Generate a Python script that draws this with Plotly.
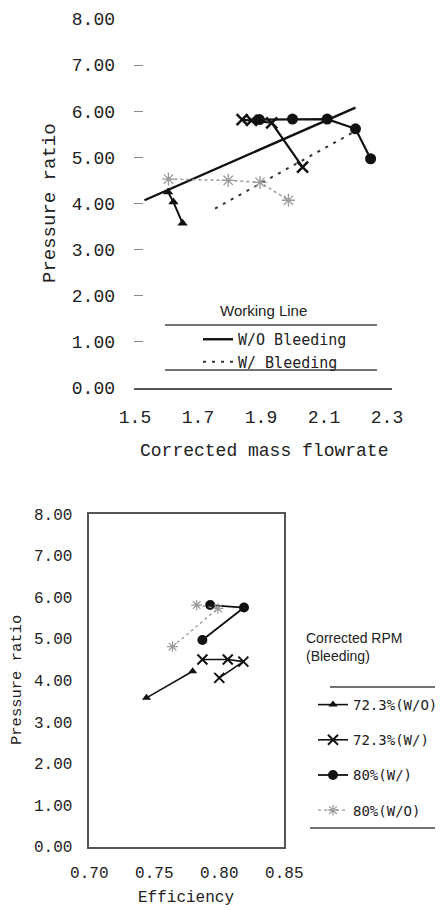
import plotly.graph_objects as go

W, H = 443, 910
OFF = 8  # page body margin offset in the photographed window

# ---------------- data: top chart (pressure ratio vs corrected mass flowrate)
wl_wo_x = [1.53, 2.20]
wl_wo_y = [4.07, 6.08]
wl_w_x = [1.754, 2.20]
wl_w_y = [3.89, 5.57]

top_723_wo_x = [1.605, 1.622, 1.651]
top_723_wo_y = [4.25, 4.03, 3.57]
top_723_w_x = [1.840, 1.870, 1.934, 2.032]
top_723_w_y = [5.82, 5.80, 5.75, 4.79]
top_80_w_x = [1.895, 2.000, 2.110, 2.200, 2.248]
top_80_w_y = [5.82, 5.83, 5.83, 5.62, 4.97]
top_80_wo_x = [1.606, 1.796, 1.897, 1.987]
top_80_wo_y = [4.53, 4.50, 4.46, 4.07]

top_xticks = [1.5, 1.7, 1.9, 2.1, 2.3]
yticks = [0, 1, 2, 3, 4, 5, 6, 7, 8]

# ---------------- data: bottom chart (pressure ratio vs efficiency)
eff_723_wo = [0.7795, 0.744]
pr_723_wo = [4.22, 3.58]
eff_723_w = [0.787, 0.8065, 0.8185, 0.800]
pr_723_w = [4.50, 4.50, 4.45, 4.06]
eff_80_w = [0.793, 0.819, 0.787]
pr_80_w = [5.81, 5.75, 4.97]
eff_80_wo = [0.7826, 0.799, 0.764]
pr_80_wo = [5.81, 5.73, 4.81]

bot_xticks = [0.70, 0.75, 0.80, 0.85]

series_names = ["72.3%(W/O)", "72.3%(W/)", "80%(W/)", "80%(W/O)"]

BLACK = "#111111"
GRAY = "#9a9a9a"
MONO = "Liberation Mono"
SMONO = "DejaVu Sans Mono"
SANS = "Liberation Sans"


def px(v):
    return (v - OFF) / W


def py(v):
    return (H - (v - OFF)) / H


fig = go.Figure()

# ---- top chart traces
fig.add_trace(go.Scatter(x=wl_wo_x, y=wl_wo_y, mode="lines", name="W/O Bleeding",
                         line=dict(color=BLACK, width=2.4), legend="legend",
                         xaxis="x", yaxis="y"))
fig.add_trace(go.Scatter(x=wl_w_x, y=wl_w_y, mode="lines", name="W/ Bleeding",
                         line=dict(color="#333333", width=2, dash="3px,6px"), legend="legend",
                         xaxis="x", yaxis="y"))
fig.add_trace(go.Scatter(x=top_80_wo_x, y=top_80_wo_y, mode="lines+markers", showlegend=False,
                         line=dict(color=GRAY, width=1.5, dash="dot"),
                         marker=dict(symbol="asterisk-open", size=11, color=GRAY, line=dict(color=GRAY, width=1.3)),
                         xaxis="x", yaxis="y"))
fig.add_trace(go.Scatter(x=top_723_wo_x, y=top_723_wo_y, mode="lines+markers", showlegend=False,
                         line=dict(color=BLACK, width=2),
                         marker=dict(symbol="triangle-up", size=9, color=BLACK),
                         xaxis="x", yaxis="y"))
fig.add_trace(go.Scatter(x=top_80_w_x, y=top_80_w_y, mode="lines+markers", showlegend=False,
                         line=dict(color=BLACK, width=2.2),
                         marker=dict(symbol="circle", size=11, color=BLACK),
                         xaxis="x", yaxis="y"))
fig.add_trace(go.Scatter(x=top_723_w_x, y=top_723_w_y, mode="lines+markers", showlegend=False,
                         line=dict(color=BLACK, width=2.2),
                         marker=dict(symbol="x-thin-open", size=11, color=BLACK, line=dict(color=BLACK, width=2.5)),
                         xaxis="x", yaxis="y"))

# ---- bottom chart traces
fig.add_trace(go.Scatter(x=eff_723_wo, y=pr_723_wo, mode="lines+markers", name=series_names[0],
                         line=dict(color=BLACK, width=1.6),
                         marker=dict(symbol="triangle-up", size=8, color=BLACK),
                         legend="legend2", legendgroup="a", xaxis="x2", yaxis="y2"))
fig.add_trace(go.Scatter(x=eff_723_w, y=pr_723_w, mode="lines+markers", name=series_names[1],
                         line=dict(color=BLACK, width=1.6),
                         marker=dict(symbol="x-thin-open", size=10, color=BLACK, line=dict(color=BLACK, width=2)),
                         legend="legend2", legendgroup="b", xaxis="x2", yaxis="y2"))
fig.add_trace(go.Scatter(x=eff_80_w, y=pr_80_w, mode="lines+markers", name=series_names[2],
                         line=dict(color=BLACK, width=1.8),
                         marker=dict(symbol="circle", size=10, color=BLACK),
                         legend="legend2", legendgroup="c", xaxis="x2", yaxis="y2"))
fig.add_trace(go.Scatter(x=eff_80_wo, y=pr_80_wo, mode="lines+markers", name=series_names[3],
                         line=dict(color=GRAY, width=1.3, dash="dot"),
                         marker=dict(symbol="asterisk-open", size=9, color=GRAY, line=dict(color=GRAY, width=1.2)),
                         legend="legend2", legendgroup="d", xaxis="x2", yaxis="y2"))

tick_font_top = dict(family=MONO, size=18, color="#222222")
tick_font_bot = dict(family=MONO, size=16, color="#222222")


def ann(text, x, y, size, family=MONO, angle=0, xanchor="center", align="center"):
    return dict(text=text, x=px(x), y=py(y), xref="paper", yref="paper",
                xanchor=xanchor, yanchor="middle", align=align, textangle=angle,
                showarrow=False, font=dict(family=family, size=size, color="#222222"))


def hline(x0, x1, y):
    return dict(type="line", xref="paper", yref="paper", x0=px(x0), x1=px(x1),
                y0=py(y), y1=py(y), line=dict(color="#444444", width=1.3))


fig.update_layout(
    width=W, height=H,
    margin=dict(l=0, r=0, t=0, b=0, autoexpand=False),
    paper_bgcolor="white", plot_bgcolor="white",
    showlegend=True,
    xaxis=dict(domain=[px(134), px(392)], range=[1.4968, 2.3159], anchor="y",
               tickvals=top_xticks, ticktext=["1.5", "1.7", "1.9", "2.1", "2.3"],
               showgrid=False, zeroline=False, showline=True, linecolor="#555555", linewidth=1.5,
               ticks="", tickfont=tick_font_top, ticklabelstandoff=12, automargin=False,
               ticklabeloverflow="allow"),
    yaxis=dict(domain=[py(388), py(19)], range=[0, 8], anchor="x",
               tickvals=yticks, ticktext=[f"{v:.2f}" for v in yticks],
               showgrid=False, zeroline=False, showline=False,
               ticks="inside", ticklen=9, tickwidth=1.2, tickcolor="#888888",
               tickfont=tick_font_top, ticklabelstandoff=18, automargin=False,
               ticklabeloverflow="allow"),
    xaxis2=dict(domain=[px(89.3), px(284.3)], range=[0.70, 0.85], anchor="y2",
                tickvals=bot_xticks, ticktext=[f"{v:.2f}" for v in bot_xticks],
                showgrid=False, zeroline=False, showline=True, mirror=True,
                linecolor="#555555", linewidth=1.5, ticks="", tickfont=tick_font_bot,
                ticklabelstandoff=10, automargin=False, ticklabeloverflow="allow"),
    yaxis2=dict(domain=[py(846.7), py(514)], range=[0, 8], anchor="x2",
                tickvals=yticks, ticktext=[f"{v:.2f}" for v in yticks],
                showgrid=False, zeroline=False, showline=True, mirror=True,
                linecolor="#555555", linewidth=1.5, ticks="", tickfont=tick_font_bot,
                ticklabelstandoff=12, automargin=False, ticklabeloverflow="allow"),
    legend=dict(x=px(198), y=py(323), xanchor="left", yanchor="top",
                bgcolor="rgba(0,0,0,0)", borderwidth=0,
                font=dict(family=SMONO, size=15, color="#222222"),
                itemwidth=30, tracegroupgap=0),
    legend2=dict(x=px(313), y=py(689), xanchor="left", yanchor="top",
                 bgcolor="rgba(0,0,0,0)", borderwidth=0,
                 font=dict(family=SMONO, size=14, color="#222222"),
                 traceorder="grouped", tracegroupgap=14, itemwidth=30),
    annotations=[
        ann("Pressure ratio", 50, 203, 19, angle=-90),
        ann("Corrected mass flowrate", 264, 451, 18),
        ann("Working Line", 263, 310, 15, family=SANS),
        ann("Pressure ratio", 17, 680, 15.5, angle=-90),
        ann("Efficiency", 186, 898, 16),
        ann("Corrected RPM<br>(Bleeding)", 304, 647, 14, family=SANS, xanchor="left", align="left"),
    ],
    shapes=[
        hline(165, 377, 325),
        hline(165, 377, 370),
        hline(330, 451, 687),
        hline(310, 451, 828),
    ],
)

fig.write_html("out.html")
